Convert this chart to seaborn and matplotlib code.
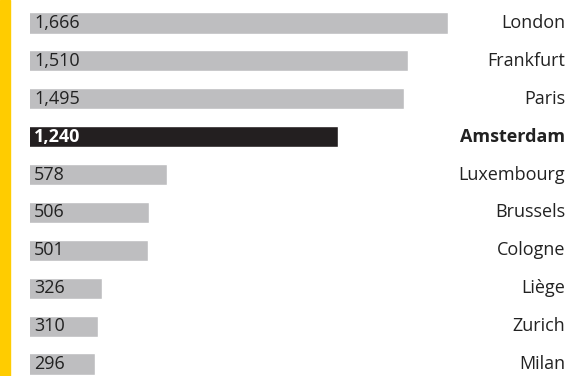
import matplotlib
matplotlib.use("Agg")
import matplotlib.pyplot as plt
import pandas as pd
import seaborn as sns

# ====================
#  DATA
# ====================

cities = ["London", "Frankfurt", "Paris", "Amsterdam", "Luxembourg",
          "Brussels", "Cologne", "Liège", "Zurich", "Milan"]
values = [1666, 1510, 1495, 1240, 578, 506, 501, 326, 310, 296]
highlight = "Amsterdam"

df = pd.DataFrame({"city": cities, "value": values})

# ====================
#  PLOT
# ====================

sns.set_theme(style="white")
plt.rcParams["font.family"] = ["Open Sans", "DejaVu Sans"]

W, H = 571, 376
fig = plt.figure(figsize=(W / 100, H / 100), dpi=100)

# yellow strip on the left edge
fig.add_artist(plt.Rectangle((0, 0), 10 / W, 1, transform=fig.transFigure,
                             color="#FFCC00", zorder=0))

left_px = 30
ax = fig.add_axes([left_px / W, 0, 1 - left_px / W, 1])

palette = {c: ("#231F20" if c == highlight else "#BEBEC0") for c in cities}
sns.barplot(data=df, x="value", y="city", hue="city", palette=palette,
            order=cities, width=0.56, legend=False, ax=ax, saturation=1)

# bar scale (bars start slightly left of the visible edge)
px_per_unit = 0.2582
x0 = 45.7
ax.set_xlim(x0, x0 + (W - left_px) / px_per_unit)
step = 37.9
ax.set_ylim(9 + (H - 364) / step, -23 / step)
ax.axis("off")

for i, (c, v) in enumerate(zip(cities, values)):
    hl = c == highlight
    ax.text(x0 + 4 / px_per_unit, i, f"{v:,}", va="center", ha="left",
            fontsize=13, color="white" if hl else "#222222",
            fontweight="bold" if hl else "normal")
    ax.text(x0 + (W - 6 - left_px) / px_per_unit, i, c, va="center",
            ha="right", fontsize=13, color="#222222",
            fontweight="bold" if hl else "normal")

fig.savefig("out.png", dpi=100)
